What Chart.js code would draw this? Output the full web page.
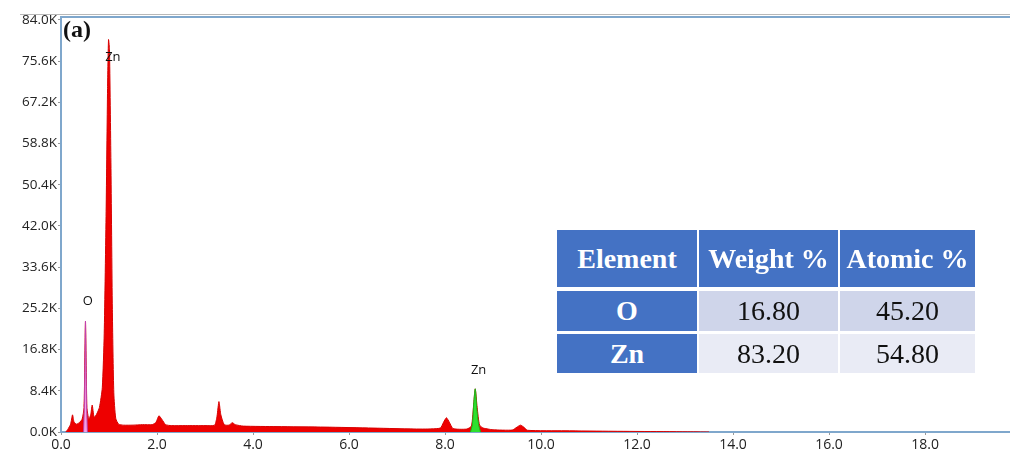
<!DOCTYPE html>
<html>
<head>
<meta charset="utf-8">
<script src="https://cdn.jsdelivr.net/npm/chart.js@4/dist/chart.umd.min.js"></script>
<style>
  html,body{margin:0;padding:0;background:#fff;}
  #wrap{position:relative;width:1010px;height:457px;overflow:hidden;}
  canvas{position:absolute;left:0;top:0;}
  .cell{position:absolute;display:flex;align-items:center;justify-content:center;font-family:"Liberation Serif","Times New Roman",serif;font-size:28px;color:#111;}
  .hd{background:#4472C4;color:#fff;font-weight:bold;}
  .r1{background:#CFD5EA;}
  .r2{background:#E9EBF5;}
  #tag{position:absolute;left:63px;top:16px;font-family:"Liberation Serif",serif;font-weight:bold;font-size:24px;color:#111;}
</style>
</head>
<body>
<div id="wrap">
<canvas id="c" width="1010" height="457"></canvas>
<div id="tag">(a)</div>
<div id="tbl"></div>
</div>
<script>
// ---- data (energy keV, counts in thousands) ----
const energy = [0.10,0.14,0.20,0.24,0.27,0.32,0.38,0.44,0.48,0.51,0.54,0.58,0.62,0.65,0.69,0.74,0.80,0.86,0.90,0.94,0.97,0.99,1.01,1.04,1.07,1.10,1.14,1.20,1.30,1.50,1.70,1.90,1.98,2.04,2.10,2.18,2.30,2.60,3.00,3.20,3.25,3.29,3.33,3.40,3.50,3.57,3.63,3.80,4.50,5.50,6.50,7.50,7.90,7.97,8.03,8.09,8.17,8.45,8.55,8.60,8.63,8.67,8.72,8.80,8.90,9.00,9.40,9.50,9.57,9.64,9.72,10.5,11.5,12.5,13.0,13.5];
const counts = [0.0,0.5,1.6,3.5,2.1,1.6,1.9,2.6,5.0,22.6,5.0,2.6,3.6,5.5,3.0,3.6,5.0,9.0,20,45,70,80,78,55,25,8,2.8,1.6,1.4,1.4,1.5,1.5,2.0,3.3,2.6,1.5,1.3,1.3,1.3,1.4,3.2,6.2,3.5,1.5,1.4,1.9,1.5,1.2,1.1,1.0,0.8,0.6,0.8,2.0,2.9,2.0,0.7,0.6,1.2,6.0,8.8,5.0,1.4,0.8,0.6,0.45,0.4,1.0,1.4,1.0,0.35,0.25,0.15,0.08,0.04,0];
const oEnergy = [0.47,0.49,0.51,0.53,0.55];
const oCounts = [0,6,22.6,6,0];
const znEnergy = [8.53,8.57,8.60,8.63,8.66,8.70,8.74];
const znCounts = [0,1.5,6.0,8.8,5.0,1.5,0];
const yTicks = [0,8.4,16.8,25.2,33.6,42.0,50.4,58.8,67.2,75.6,84.0];
const xTicks = [0,2,4,6,8,10,12,14,16,18];
const peakLabels = ['Zn','O','Zn'];
const peakLabelE = [1.08,0.56,8.70];
const peakLabelC = [76.3,26.6,12.5];
const tableHead = ['Element','Weight %','Atomic %'];
const tableElems = ['O','Zn'];
const tableWeight = ['16.80','83.20'];
const tableAtomic = ['45.20','54.80'];

const toXY = (xs, ys) => xs.map((x,i)=>({x:x,y:ys[i]}));

const deco = {
  id:'deco',
  beforeDraw(chart){
    const ctx = chart.ctx, a = chart.chartArea;
    ctx.save();
    ctx.strokeStyle = '#b8b8b8'; ctx.lineWidth = 1;
    ctx.beginPath(); ctx.moveTo(20,14.5); ctx.lineTo(1010,14.5); ctx.stroke();
    ctx.strokeStyle = '#7FA7CC'; ctx.lineWidth = 2;
    ctx.beginPath(); ctx.moveTo(a.left-1,a.top); ctx.lineTo(1010,a.top); ctx.stroke();
    ctx.restore();
  },
  afterDatasetsDraw(chart){
    const ctx = chart.ctx, xs = chart.scales.x, ys = chart.scales.y;
    ctx.save();
    ctx.font = '13px "Open Sans", "DejaVu Sans", sans-serif';
    ctx.fillStyle = '#111'; ctx.textAlign = 'center'; ctx.textBaseline = 'middle';
    peakLabels.forEach((t,i)=>{
      ctx.fillText(t, xs.getPixelForValue(peakLabelE[i]), ys.getPixelForValue(peakLabelC[i]));
    });
    ctx.restore();
  }
};

new Chart(document.getElementById('c'), {
  type:'line',
  data:{datasets:[
    {data:toXY(oEnergy,oCounts), borderColor:'#C040B0', backgroundColor:'#F2A2E2', borderWidth:1, fill:'origin', pointRadius:0, tension:0, order:0},
    {data:toXY(znEnergy,znCounts), borderColor:'#18B818', backgroundColor:'#2EE02E', borderWidth:1, fill:'origin', pointRadius:0, tension:0.3, order:1},
    {data:toXY(energy,counts), borderColor:'#D80000', backgroundColor:'#EE0000', borderWidth:1, fill:'origin', pointRadius:0, tension:0.2, order:2}
  ]},
  options:{
    responsive:false, animation:false,
    layout:{padding:{top:17,right:0,bottom:0,left:0}},
    plugins:{legend:{display:false}, tooltip:{enabled:false}},
    scales:{
      x:{type:'linear', min:0, max:19.77,
        afterBuildTicks(s){ s.ticks = xTicks.map(v=>({value:v})); },
        afterFit(s){ s.height = 25; },
        border:{color:'#7FA7CC', width:2},
        grid:{drawOnChartArea:false, tickLength:3, color:'#999'},
        ticks:{font:{family:'"Open Sans", sans-serif', size:14}, color:'#222', padding:2, maxRotation:0,
          callback:v=>Number(v).toFixed(1)}
      },
      y:{type:'linear', min:0, max:84.6,
        afterBuildTicks(s){ s.ticks = yTicks.map(v=>({value:v})); },
        afterFit(s){ s.width = 61; },
        border:{color:'#7FA7CC', width:2},
        grid:{drawOnChartArea:false, tickLength:3, color:'#999'},
        ticks:{font:{family:'"Open Sans", sans-serif', size:13.5}, color:'#222', padding:1,
          callback:v=>Number(v).toFixed(1)+'K'}
      }
    }
  },
  plugins:[deco]
});

// ---- table overlay ----
const tbl = document.getElementById('tbl');
const colX = [557,699,840], colW = [140,139,135];
const rowY = [230,291,334], rowH = [57,40,39];
function cell(txt, r, c, cls){
  const d = document.createElement('div');
  d.className = 'cell ' + cls;
  d.style.left = colX[c]+'px'; d.style.top = rowY[r]+'px';
  d.style.width = colW[c]+'px'; d.style.height = rowH[r]+'px';
  d.textContent = txt; tbl.appendChild(d);
}
tableHead.forEach((t,c)=>cell(t,0,c,'hd'));
tableElems.forEach((e,i)=>{
  const rc = i===0 ? 'r1' : 'r2';
  cell(e,i+1,0,'hd');
  cell(tableWeight[i],i+1,1,rc);
  cell(tableAtomic[i],i+1,2,rc);
});
</script>
</body>
</html>
